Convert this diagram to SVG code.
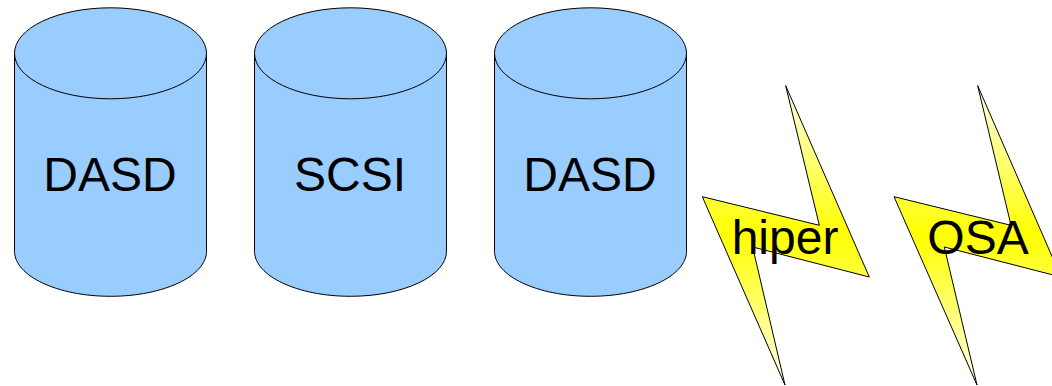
<svg xmlns="http://www.w3.org/2000/svg" width="1052" height="386" viewBox="0 0 1052 386">
<style>
.cyl{fill:#99ccff;stroke:#000;stroke-width:1}
.bolt{fill:url(#yg);stroke:#000;stroke-width:1;stroke-linejoin:miter}
text{font-family:"Liberation Sans",Arial,sans-serif;font-size:48px;fill:#000;text-anchor:middle}
</style>
<defs>
<linearGradient id="yg" gradientUnits="userSpaceOnUse" x1="0" y1="85" x2="0" y2="385">
<stop offset="0" stop-color="#ffffe8"/>
<stop offset="0.5" stop-color="#ffff00"/>
<stop offset="1" stop-color="#ffffe8"/>
</linearGradient>
<g id="can">
<path class="cyl" d="M0 0V198C0 222.600 43 243 96 243S192 222.600 192 198V0"/>
<ellipse class="cyl" cx="96" cy="0" rx="96" ry="45.500"/>
</g>
</defs>
<g id="connectors"/>
<g id="dasd1"><use href="#can" x="14.500" y="53.300"/><text x="110" y="191">DASD</text></g>
<g id="scsi"><use href="#can" x="254.500" y="53.300"/><text x="350" y="191">SCSI</text></g>
<g id="dasd2"><use href="#can" x="494.500" y="53.300"/><text x="590" y="191">DASD</text></g>
<g id="hiper"><path class="bolt" d="M785.700 85.700L869.300 277L752.600 247L785 385L702.300 196.700L819.300 225.300Z"/><text x="785" y="254">hiper</text></g>
<g id="osa"><path class="bolt" d="M977.700 85.700L1061 277L944.300 247L977 385L894 196.700L1011 225.300Z"/><text x="978" y="254">OSA</text></g>
</svg>
